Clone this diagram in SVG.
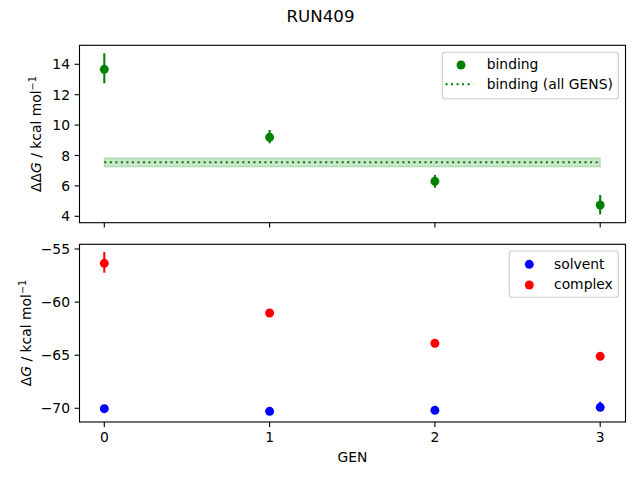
<svg xmlns="http://www.w3.org/2000/svg" width="640" height="480" viewBox="0 0 640 480">
<style>
text{font-family:"DejaVu Sans",sans-serif;fill:#000}
.tick{font-size:13.89px}
.spine{fill:none;stroke:#000;stroke-width:1.11}
.tk{stroke:#000;stroke-width:1.11}
.leg{fill:#fff;fill-opacity:0.8;stroke:#cccccc;stroke-width:1.11}
.eg{stroke:#008000;stroke-width:2.08}
.er{stroke:#ff0000;stroke-width:2.08}
.eb{stroke:#0000ff;stroke-width:2.08}
circle{r:4.45px}
</style>
<rect width="640" height="480" fill="#fff"/>
<text x="320.5" y="21.5" font-size="16.67px" text-anchor="middle">RUN409</text>

<g id="top-axes">
  <rect x="104.3" y="158" width="495.9" height="8.7" fill="#008000" fill-opacity="0.2" stroke="#008000" stroke-opacity="0.2" stroke-width="1.4"/>
  <line x1="104.3" y1="162.3" x2="600.2" y2="162.3" stroke="#008000" stroke-width="2.08" stroke-dasharray="2.08,3.44"/>
  <g id="binding">
    <line class="eg" x1="104.3" y1="53.3" x2="104.3" y2="83.3"/>
    <line class="eg" x1="269.6" y1="130" x2="269.6" y2="143.3"/>
    <line class="eg" x1="434.9" y1="175" x2="434.9" y2="187.7"/>
    <line class="eg" x1="600.2" y1="195" x2="600.2" y2="214.3"/>
    <circle cx="104.3" cy="69.3" r="4.45" fill="#008000"/>
    <circle cx="269.6" cy="137.3" r="4.45" fill="#008000"/>
    <circle cx="434.9" cy="181.3" r="4.45" fill="#008000"/>
    <circle cx="600.2" cy="205" r="4.45" fill="#008000"/>
  </g>
  <rect class="spine" x="79.5" y="45.3" width="546" height="177.4"/>
  <g class="tk">
    <line x1="79.5" y1="216.3" x2="74.6" y2="216.3"/>
    <line x1="79.5" y1="185.9" x2="74.6" y2="185.9"/>
    <line x1="79.5" y1="155.5" x2="74.6" y2="155.5"/>
    <line x1="79.5" y1="125.1" x2="74.6" y2="125.1"/>
    <line x1="79.5" y1="94.7" x2="74.6" y2="94.7"/>
    <line x1="79.5" y1="64.3" x2="74.6" y2="64.3"/>
    <line x1="104.3" y1="222.7" x2="104.3" y2="227.6"/>
    <line x1="269.6" y1="222.7" x2="269.6" y2="227.6"/>
    <line x1="434.9" y1="222.7" x2="434.9" y2="227.6"/>
    <line x1="600.2" y1="222.7" x2="600.2" y2="227.6"/>
  </g>
  <g class="tick" text-anchor="end">
    <text x="70" y="221.3">4</text>
    <text x="70" y="190.9">6</text>
    <text x="70" y="160.5">8</text>
    <text x="70" y="130.1">10</text>
    <text x="70" y="99.7">12</text>
    <text x="70" y="69.3">14</text>
  </g>
  <text transform="translate(41,134) rotate(-90)" font-size="13.89px" text-anchor="middle">ΔΔ<tspan font-style="italic">G</tspan> / kcal mol<tspan font-size="9.7px" dy="-5.5">−1</tspan></text>
  <g id="legend-top">
    <rect class="leg" x="442.3" y="52.3" width="176" height="46.4" rx="2.8"/>
    <circle cx="461" cy="65" r="4.45" fill="#008000"/>
    <line x1="445.5" y1="84.3" x2="473.3" y2="84.3" stroke="#008000" stroke-width="2.08" stroke-dasharray="2.08,3.44"/>
    <text class="tick" x="486.7" y="69.3">binding</text>
    <text class="tick" x="486.7" y="88.6">binding (all GENS)</text>
  </g>
</g>

<g id="bottom-axes">
  <g id="complex">
    <line class="er" x1="104.3" y1="252" x2="104.3" y2="272.7"/>
    <circle cx="104.3" cy="263.3" r="4.45" fill="#ff0000"/>
    <circle cx="269.6" cy="313" r="4.45" fill="#ff0000"/>
    <circle cx="434.9" cy="343.3" r="4.45" fill="#ff0000"/>
    <circle cx="600.2" cy="356.3" r="4.45" fill="#ff0000"/>
  </g>
  <g id="solvent">
    <line class="eb" x1="600.2" y1="401.7" x2="600.2" y2="410"/>
    <circle cx="104.3" cy="408.7" r="4.45" fill="#0000ff"/>
    <circle cx="269.6" cy="411.3" r="4.45" fill="#0000ff"/>
    <circle cx="434.9" cy="410.3" r="4.45" fill="#0000ff"/>
    <circle cx="600.2" cy="407.3" r="4.45" fill="#0000ff"/>
  </g>
  <rect class="spine" x="79.5" y="244.3" width="546" height="177.7"/>
  <g class="tk">
    <line x1="79.5" y1="249" x2="74.6" y2="249"/>
    <line x1="79.5" y1="302.1" x2="74.6" y2="302.1"/>
    <line x1="79.5" y1="355.2" x2="74.6" y2="355.2"/>
    <line x1="79.5" y1="408.3" x2="74.6" y2="408.3"/>
    <line x1="104.3" y1="422" x2="104.3" y2="426.9"/>
    <line x1="269.6" y1="422" x2="269.6" y2="426.9"/>
    <line x1="434.9" y1="422" x2="434.9" y2="426.9"/>
    <line x1="600.2" y1="422" x2="600.2" y2="426.9"/>
  </g>
  <g class="tick" text-anchor="end">
    <text x="70" y="254">−55</text>
    <text x="70" y="307.1">−60</text>
    <text x="70" y="360.2">−65</text>
    <text x="70" y="413.3">−70</text>
  </g>
  <g class="tick" text-anchor="middle">
    <text x="104.3" y="441.8">0</text>
    <text x="269.6" y="441.8">1</text>
    <text x="434.9" y="441.8">2</text>
    <text x="600.2" y="441.8">3</text>
  </g>
  <text x="352.5" y="462" font-size="13.89px" text-anchor="middle">GEN</text>
  <text transform="translate(31,333) rotate(-90)" font-size="13.89px" text-anchor="middle">Δ<tspan font-style="italic">G</tspan> / kcal mol<tspan font-size="9.7px" dy="-5.5">−1</tspan></text>
  <g id="legend-bottom">
    <rect class="leg" x="509.3" y="251" width="109" height="46.3" rx="2.8"/>
    <circle cx="529.3" cy="264.3" r="4.45" fill="#0000ff"/>
    <circle cx="529.3" cy="285" r="4.45" fill="#ff0000"/>
    <text class="tick" x="554" y="268.6">solvent</text>
    <text class="tick" x="554" y="289.3">complex</text>
  </g>
</g>
</svg>
